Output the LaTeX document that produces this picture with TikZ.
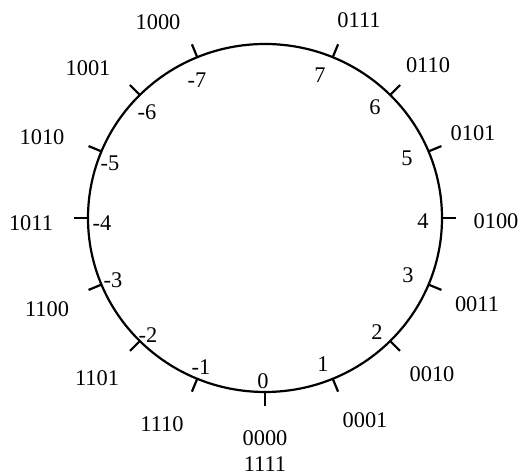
\documentclass[tikz,border=0pt]{standalone}
\usepackage{fontspec}
\setmainfont{Liberation Serif}
\begin{document}
\begin{tikzpicture}[x=0.5pt,y=-0.5pt,
  lbl/.style={font=\fontsize{11.2}{12.6}\selectfont, inner sep=0pt, align=center},
  ring/.style={line width=1.1pt},
  tickmark/.style={line width=1.1pt}]
\useasboundingbox (0,0) rectangle (520,474);
\draw[ring] (265,218) ellipse [x radius=177, y radius=174];
\foreach \i in {-7,...,7} {
  \pgfmathsetmacro\a{-90+22.5*\i}
  \coordinate (in\i) at ({265+177*cos(\a)},{218-174*sin(\a)});
  \coordinate (out\i) at ({265+191*cos(\a)},{218-188*sin(\a)});
  \draw[tickmark] (in\i) -- (out\i);
}
% inner labels
\node[lbl] (n7) at (320,75) {7};
\node[lbl] (n6) at (375,107) {6};
\node[lbl] (n5) at (407,158) {5};
\node[lbl] (n4) at (423,221) {4};
\node[lbl] (n3) at (408,275) {3};
\node[lbl] (n2) at (377,332) {2};
\node[lbl] (n1) at (323,364) {1};
\node[lbl] (n0) at (263,381) {0};
\node[lbl] (m1) at (201,367) {-1};
\node[lbl] (m2) at (148,335) {-2};
\node[lbl] (m3) at (113,280) {-3};
\node[lbl] (m4) at (102,223) {-4};
\node[lbl] (m5) at (110,163) {-5};
\node[lbl] (m6) at (147,112) {-6};
\node[lbl] (m7) at (197,80) {-7};
% outer labels
\node[lbl] (b7) at (359,20) {0111};
\node[lbl] (b6) at (428,65) {0110};
\node[lbl] (b5) at (473,133) {0101};
\node[lbl] (b4) at (496,221) {0100};
\node[lbl] (b3) at (477,304) {0011};
\node[lbl] (b2) at (432,374) {0010};
\node[lbl] (b1) at (365,420) {0001};
\node[lbl] (b0) at (265,451) {0000\\1111};
\node[lbl] (c1) at (162,424) {1110};
\node[lbl] (c2) at (97,378) {1101};
\node[lbl] (c3) at (47,309) {1100};
\node[lbl] (c4) at (31,223) {1011};
\node[lbl] (c5) at (42,137) {1010};
\node[lbl] (c6) at (88,68) {1001};
\node[lbl] (c7) at (158,22) {1000};
\end{tikzpicture}
\end{document}
